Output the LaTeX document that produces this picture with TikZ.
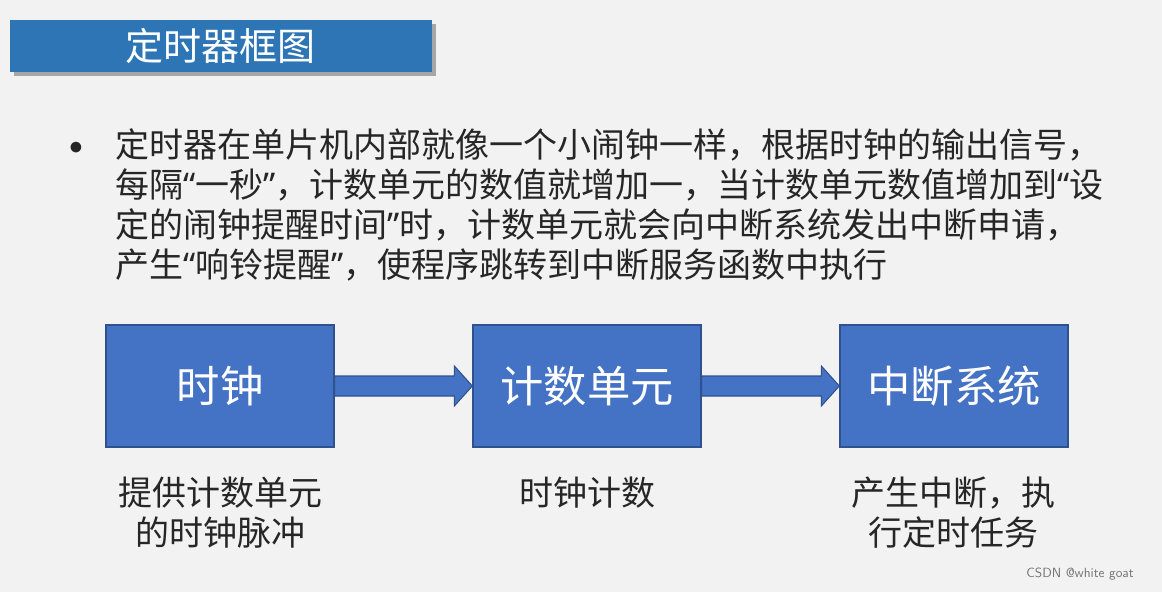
\documentclass[tikz,border=0pt]{standalone}
\usepackage{fontspec}
\newfontfamily\cjk{Noto Sans CJK SC}
\newfontfamily\lat{Noto Sans}
\newcommand{\myLq}{{\lat “}}
\newcommand{\myRq}{{\lat ”}}
\usetikzlibrary{calc}
\definecolor{bg}{HTML}{F2F2F2}
\definecolor{blu}{HTML}{4472C4}
\definecolor{blud}{HTML}{2F528F}
\definecolor{tit}{HTML}{2E75B6}
\definecolor{txt}{HTML}{262626}
\tikzset{
 box/.style={draw=blud,line width=1pt,fill=blu,minimum width=171pt,minimum height=91.5pt,text=white,font=\cjk\fontsize{32.5}{36}\selectfont},
 captext/.style={text=txt,font=\cjk\fontsize{25.5}{30}\selectfont,align=center},
 barrow/.style={draw=blud,fill=blu,line width=0.8pt}
}
\begin{document}
\begin{tikzpicture}[x=0.75pt,y=-0.75pt]
\fill[bg] (0,0) rectangle (1162,592);
\useasboundingbox (0,0) rectangle (1162,592);
\fill[black!35] (14,24) rectangle (436,76);
\node[fill=tit,minimum width=316.5pt,minimum height=39pt,anchor=north west,inner sep=0pt] (title) at (10,20) {};
\node[text=white,font=\cjk\fontsize{28.5}{30}\selectfont] (tt) at (220,46) {定时器框图};
\node[text=txt,font=\fontsize{20}{20}\selectfont] (bul) at (76,148) {$\bullet$};
\node[anchor=north west,text=txt,font=\cjk\fontsize{25.5}{30}\selectfont,align=left,inner sep=0pt] (para) at (115,128)
{定时器在单片机内部就像一个小闹钟一样，根据时钟的输出信号，\\每隔\myLq 一秒\myRq ，计数单元的数值就增加一，当计数单元数值增加到\myLq 设\\定的闹钟提醒时间\myRq 时，计数单元就会向中断系统发出中断申请，\\产生\myLq 响铃提醒\myRq ，使程序跳转到中断服务函数中执行};
\node[box] (a) at (220,386) {时钟};
\node[box] (b) at (587,386) {计数单元};
\node[box] (c) at (954,386) {中断系统};
\foreach \s/\t in {a/b,b/c}{
 \draw[barrow] ($(\s.east)+(0,-10)$) -- ($(\t.west)+(-18,-10)$) -- ($(\t.west)+(-18,-20)$) -- (\t.west) -- ($(\t.west)+(-18,20)$) -- ($(\t.west)+(-18,10)$) -- ($(\s.east)+(0,10)$) -- cycle;
}
\node[captext] (ca) at (220,513) {提供计数单元\\的时钟脉冲};
\node[captext] (cb) at (587,493) {时钟计数};
\node[captext] (cc) at (953,513) {产生中断，执\\行定时任务};
\node[text=black!55,font=\fontsize{10}{12}\selectfont\sffamily] (wm) at (1080,574) {CSDN @white goat};
\end{tikzpicture}
\end{document}
